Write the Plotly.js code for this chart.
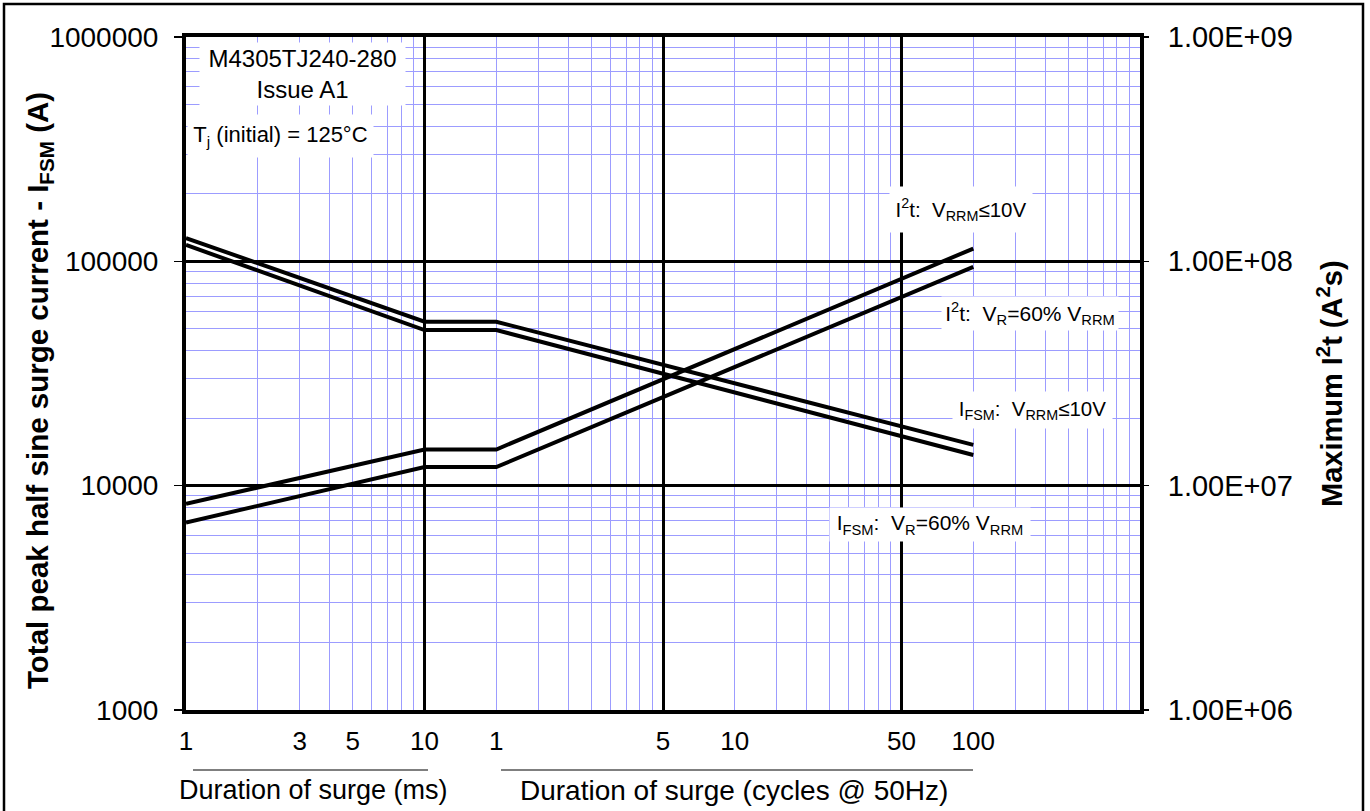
<!DOCTYPE html>
<html>
<head>
<meta charset="utf-8">
<script src="https://cdn.plot.ly/plotly-3.0.1.min.js"></script>
<style>html,body{margin:0;padding:0;background:#fff;}#chart{width:1370px;height:811px;}</style>
</head>
<body>
<div id="chart"></div>
<script>
// ---- data ----
const durationMs = [1, 10, 20, 1000, 2000];
const ifsmLowV   = [127000, 53800, 53800, 18300, 15200];   // IFSM: VRRM <= 10V
const ifsm60     = [118300, 49400, 49400, 16700, 13700];   // IFSM: VR = 60% VRRM
const i2tLowV    = [8.3e6, 1.45e7, 1.45e7, 8.4e7, 1.14e8]; // I2t: VRRM <= 10V
const i2t60      = [6.85e6, 1.21e7, 1.21e7, 6.9e7, 9.45e7]; // I2t: VR = 60% VRRM

const xTickVals = [1, 3, 5, 10, 20, 100, 200, 1000, 2000];
const xTickText = ['1', '3', '5', '10', '1', '5', '10', '50', '100'];
const yTickVals = [1000, 10000, 100000, 1000000];
const yTickText = ['1000', '10000', '100000', '1000000'];
const y2TickVals = [1e6, 1e7, 1e8, 1e9];
const y2TickText = ['1.00E+06', '1.00E+07', '1.00E+08', '1.00E+09'];

// ---- layout helpers (pixel -> paper) ----
const W = 1370, H = 811, L = 186, R = 230, T = 37, B = 101;
const PW = W - L - R, PH = H - T - B;
const px = v => (v - L) / PW;
const py = v => (H - B - v) / PH;

const FONT = 'Liberation Sans, Arial, sans-serif';
const BLUE = '#9c9cff';

const lineStyle = {color: '#000', width: 4};
const traces = [
  {x: durationMs, y: ifsmLowV, xaxis: 'x', yaxis: 'y', mode: 'lines', line: lineStyle, name: 'IFSM VRRM<=10V'},
  {x: durationMs, y: ifsm60, xaxis: 'x', yaxis: 'y', mode: 'lines', line: lineStyle, name: 'IFSM VR=60%'},
  {x: durationMs, y: i2tLowV, xaxis: 'x2', yaxis: 'y2', mode: 'lines', line: lineStyle, name: 'I2t VRRM<=10V'},
  {x: durationMs, y: i2t60, xaxis: 'x2', yaxis: 'y2', mode: 'lines', line: lineStyle, name: 'I2t VR=60%'}
];

function box(text, x0, x1, y0, y1, size) {
  return {
    text: text, xref: 'paper', yref: 'paper', x: px((x0 + x1) / 2), y: py((y0 + y1) / 2),
    xanchor: 'center', yanchor: 'middle', showarrow: false,
    width: x1 - x0, height: y1 - y0, borderpad: 0,
    bgcolor: '#ffffff',
    font: {family: FONT, size: size, color: '#000'}
  };
}
function plainText(text, cx, cy, size, opts) {
  return Object.assign({
    text: text, xref: 'paper', yref: 'paper', x: px(cx), y: py(cy),
    xanchor: 'center', yanchor: 'middle', showarrow: false,
    font: {family: FONT, size: size, color: '#000'}
  }, opts || {});
}

const layout = {
  width: W, height: H,
  margin: {l: L, r: R, t: T, b: B, pad: 0},
  paper_bgcolor: '#fff', plot_bgcolor: '#fff',
  showlegend: false,
  xaxis: {
    type: 'log', range: [0, 4], dtick: 1, showticklabels: false, ticks: '',
    showgrid: true, gridcolor: '#000', gridwidth: 3,
    minor: {dtick: 'D1', showgrid: true, gridcolor: BLUE, gridwidth: 1, ticks: ''},
    showline: true, linecolor: '#000', linewidth: 4, mirror: true, zeroline: false
  },
  xaxis2: {
    type: 'log', range: [0, 4], overlaying: 'x', anchor: 'y2', side: 'bottom',
    tickmode: 'array', tickvals: xTickVals, ticktext: xTickText,
    ticks: '', ticklabelstandoff: 13, showgrid: false, showline: false, zeroline: false,
    tickfont: {family: FONT, size: 26, color: '#000'}
  },
  yaxis: {
    type: 'log', range: [3, 6], tickmode: 'array', tickvals: yTickVals, ticktext: yTickText,
    ticks: 'outside', ticklen: 8, tickwidth: 1.5, tickcolor: '#000', ticklabelstandoff: 10,
    tickfont: {family: FONT, size: 28, color: '#000'},
    showgrid: true, gridcolor: '#000', gridwidth: 3,
    minor: {dtick: 'D1', showgrid: true, gridcolor: BLUE, gridwidth: 1, ticks: ''},
    showline: true, linecolor: '#000', linewidth: 4, mirror: true, zeroline: false
  },
  yaxis2: {
    type: 'log', range: [6, 9], overlaying: 'y', side: 'right', anchor: 'x2',
    tickmode: 'array', tickvals: y2TickVals, ticktext: y2TickText,
    ticks: 'outside', ticklen: 8, tickwidth: 1.5, tickcolor: '#000', ticklabelstandoff: 13,
    tickfont: {family: FONT, size: 29, color: '#000'},
    showgrid: false, showline: false, zeroline: false
  },
  annotations: [
    // axis titles
    plainText('<b>Total peak half sine surge current - I<sub>FSM</sub> (A)</b>', 39, 391, 29.5, {textangle: -90}),
    plainText('<b>Maximum I<sup>2</sup>t (A<sup>2</sup>s)</b>', 1330, 384, 29, {textangle: -90}),
    // boxed labels
    box('M4305TJ240-280<br>Issue A1', 200, 405, 43, 105, 24),
    box('T<sub>j</sub> (initial) = 125°C', 188, 373, 115, 157, 22),
    box('I<sup>2</sup>t:  V<sub>RRM</sub>≤10V', 890, 1032, 187, 232, 20.5),
    box('I<sup>2</sup>t:  V<sub>R</sub>=60% V<sub>RRM</sub>', 942, 1118, 297, 330, 21),
    box('I<sub>FSM</sub>:  V<sub>RRM</sub>≤10V', 953, 1112, 392, 428, 20.5),
    box('I<sub>FSM</sub>:  V<sub>R</sub>=60% V<sub>RRM</sub>', 830, 1030, 508, 541, 21),
    // x-axis captions
    plainText('Duration of surge (ms)', 313, 790, 27),
    plainText('Duration of surge (cycles @ 50Hz)', 734, 790, 28)
  ],
  shapes: [
    {type: 'line', xref: 'paper', yref: 'paper', x0: px(193), x1: px(428), y0: py(770), y1: py(770),
     line: {color: '#000', width: 1.2}},
    {type: 'line', xref: 'paper', yref: 'paper', x0: px(501), x1: px(973), y0: py(770), y1: py(770),
     line: {color: '#000', width: 1.2}},
    {type: 'rect', xref: 'paper', yref: 'paper', x0: px(4), x1: px(1363), y0: py(4), y1: py(830),
     line: {color: '#000', width: 2.5}, fillcolor: 'rgba(0,0,0,0)', layer: 'above'}
  ]
};

Plotly.newPlot('chart', traces, layout, {displayModeBar: false, staticPlot: true});
</script>
</body>
</html>
